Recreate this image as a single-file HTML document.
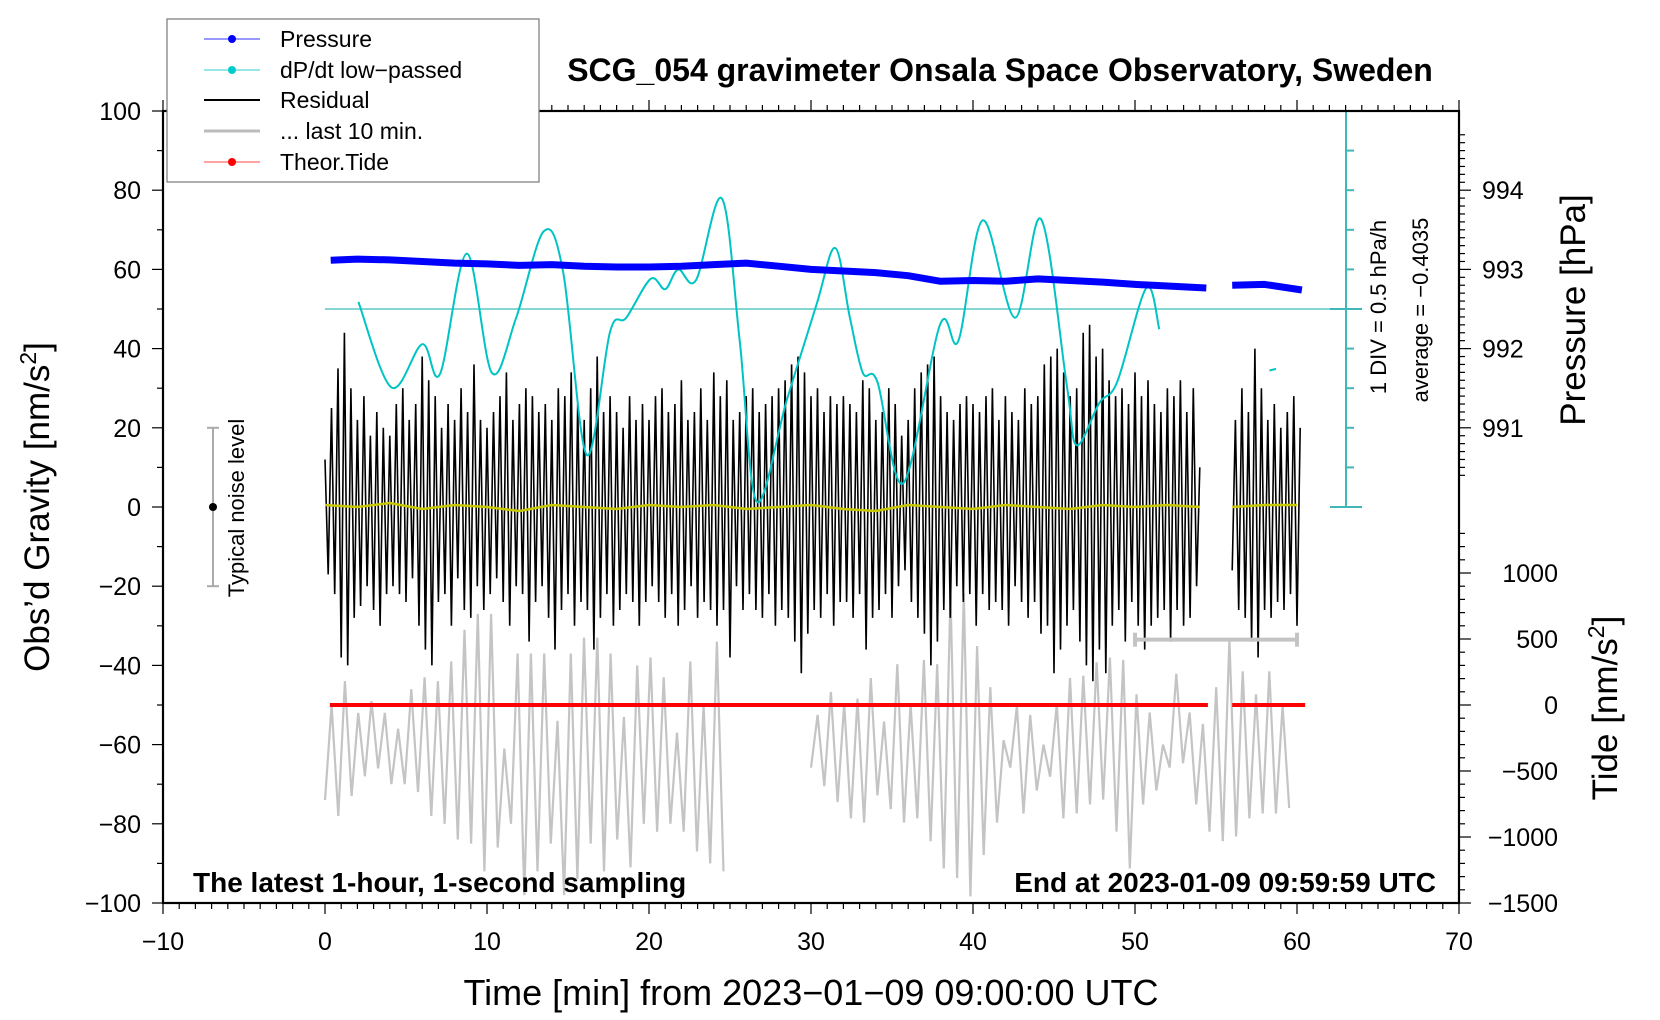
<!DOCTYPE html>
<html><head><meta charset="utf-8">
<style>
html,body{margin:0;padding:0;background:#fff;}
svg{display:block;font-family:"Liberation Sans",Arial,sans-serif;}
</style></head>
<body>
<svg id="chart" width="1660" height="1020" viewBox="0 0 1660 1020" xmlns="http://www.w3.org/2000/svg">
  <rect x="0" y="0" width="1660" height="1020" fill="#fff"/>
  <g id="marks"></g>
  <g id="axes"></g>
  <text x="1000" y="81" text-anchor="middle" font-size="32" font-weight="bold">SCG_054 gravimeter Onsala Space Observatory, Sweden</text>
  <text x="193" y="892" font-size="28" font-weight="bold">The latest 1-hour, 1-second sampling</text>
  <text x="1436" y="892" text-anchor="end" font-size="28" font-weight="bold">End at 2023-01-09 09:59:59 UTC</text>
  <text x="811" y="1005" text-anchor="middle" font-size="36">Time [min] from 2023−01−09 09:00:00 UTC</text>
  <text transform="translate(49,507) rotate(-90)" text-anchor="middle" font-size="35">Obs’d Gravity [nm/s<tspan dy="-13" font-size="23">2</tspan><tspan dy="13">]</tspan></text>
  <text transform="translate(1585,310) rotate(-90)" text-anchor="middle" font-size="35">Pressure [hPa]</text>
  <text transform="translate(1617,708) rotate(-90)" text-anchor="middle" font-size="35">Tide [nm/s<tspan dy="-13" font-size="23">2</tspan><tspan dy="13">]</tspan></text>
  <text transform="translate(1386,307) rotate(-90)" text-anchor="middle" font-size="22">1 DIV = 0.5 hPa/h</text>
  <text transform="translate(1428,310) rotate(-90)" text-anchor="middle" font-size="22">average = −0.4035</text>
  <text transform="translate(244,508) rotate(-90)" text-anchor="middle" font-size="22">Typical noise level</text>
  <g>
    <rect x="167" y="19" width="372" height="163" fill="#fff" stroke="#777" stroke-width="1.2"/>
    <g>
      <line x1="204" y1="39" x2="260" y2="39" stroke="#33f" stroke-width="1"/><circle cx="232" cy="39" r="4" fill="#00f"/>
      <text x="280" y="47" font-size="23">Pressure</text></g>
    <g>
      <line x1="204" y1="70" x2="260" y2="70" stroke="#3cc" stroke-width="1"/><circle cx="232" cy="70" r="4" fill="#0cc"/>
      <text x="280" y="78" font-size="23">dP/dt low−passed</text></g>
    <g>
      <line x1="204" y1="100" x2="260" y2="100" stroke="#000" stroke-width="2"/>
      <text x="280" y="108" font-size="23">Residual</text></g>
    <g>
      <line x1="204" y1="131" x2="260" y2="131" stroke="#bbb" stroke-width="3"/>
      <text x="280" y="139" font-size="23">... last 10 min.</text></g>
    <g>
      <line x1="204" y1="162" x2="260" y2="162" stroke="#f44" stroke-width="1"/><circle cx="232" cy="162" r="4" fill="#f00"/>
      <text x="280" y="170" font-size="23">Theor.Tide</text></g>
  </g>
</svg>
<script>
// ---- data ----
const residStep = 0.2;
const residSeg1Start = 0;
const residSeg1 = [12,-17,25,-22,35,-38,44,-40,30,-28,22,-25,28,-20,18,-26,24,-30,20,-22,
18,-20,26,-22,30,-24,22,-18,26,-30,38,-36,32,-40,28,-24,20,-22,26,-30,
22,-18,30,-26,24,-28,36,-20,22,-26,20,-22,24,-18,28,-24,34,-30,22,-20,
26,-22,30,-34,28,-24,24,-20,26,-28,22,-36,30,-26,28,-22,34,-30,26,-24,
22,-26,30,-36,38,-28,24,-22,28,-30,24,-26,20,-22,28,-24,22,-30,26,-24,
22,-20,28,-24,30,-28,24,-22,26,-30,32,-26,22,-20,24,-28,30,-24,22,-26,
34,-30,28,-26,32,-38,22,-20,24,-26,28,-22,30,-26,24,-28,26,-22,28,-30,
30,-26,32,-28,36,-34,38,-42,34,-32,28,-26,30,-28,24,-22,28,-30,26,-24,
28,-24,26,-28,24,-22,32,-36,30,-28,22,-26,24,-22,30,-28,26,-20,18,-16,
22,-24,30,-28,34,-32,36,-40,38,-34,28,-26,24,-28,22,-20,26,-24,28,-22,
26,-30,24,-22,28,-26,30,-24,22,-26,28,-30,24,-20,22,-24,30,-28,26,-24,
28,-32,36,-30,38,-42,40,-36,34,-30,28,-26,30,-34,44,-40,46,-44,38,-36,
40,-42,32,-30,28,-26,30,-34,26,-24,34,-30,28,-36,32,-30,26,-28,24,-26,
30,-34,28,-26,32,-30,24,-28,30,-20,10];
const residSeg2Start = 56;
const residSeg2 = [-16,22,-26,30,-28,24,-34,40,-38,30,-26,22,-28,26,-24,20,-26,24,-22,28,-30,20];

const smoothTimes = [0,2,4,6,8,10,12,14,16,18,20,22,24,26,28,30,32,34,36,38,40,42,44,46,48,50,52,54];
const smoothVals  = [0.5,0,1,-0.5,0.5,0,-1,0.5,0,-0.5,0.5,0,0.5,-0.5,0,0.5,-0.5,-1,0.5,0,-0.5,0.5,0,-0.5,0.5,0,0.5,0];
const smoothTimes2 = [56,58,60];
const smoothVals2 = [0,0.5,0.5];

const grayStep = 0.41;
const graySeg1Start = 0;
const graySeg1 = [-74,-50,-78,-44,-73,-52,-68,-49,-66,-52,-70,-56,-70,-46,-72,-43,-78,-44,-80,-39,-84,-31,-85,-27,-92,-27,-86,-61,-80,-37,-98,-37,-92,-37,-85,-54,-98,-37,-94,-33,-85,-33,-92,-37,-84,-53,-91,-40,-80,-38,-82,-43,-80,-57,-82,-39,-87,-50,-90,-34,-92];
const graySeg2Start = 30;
const graySeg2 = [-65.8,-52.5,-70.5,-46.7,-74.5,-49.6,-78.6,-48.4,-79.7,-43.2,-72.8,-54.2,-76.3,-39.7,-79.7,-49.6,-78.6,-38.6,-84.4,-39.7,-91.3,-22.3,-93.7,-21.8,-98.3,-35.1,-87.9,-45.5,-79.7,-58.9,-65.8,-50.2,-77.4,-52.5,-71.6,-60,-68.1,-49.6,-78.6,-43.2,-77.4,-42.6,-75.1,-39.2,-73.9,-38,-82,-38.6,-91.3,-47.3,-75.1,-51.9,-71.6,-60,-65.8,-42.1,-64.7,-51.9,-75.1,-54.8,-82,-45.5,-84.4,-33.4,-83.2,-41.5,-78.6,-47.3,-77.4,-41.5,-77.4,-50.2,-76];

const pressTimes1 = [0.35,2,4,6,8,10,12,14,16,18,20,22,24,26,28,30,32,34,36,38,40,42,44,46,48,50,52,54.4];
const pressVals1  = [993.115,993.13,993.12,993.10,993.08,993.07,993.05,993.06,993.04,993.03,993.03,993.04,993.06,993.08,993.04,993.0,992.98,992.96,992.92,992.85,992.86,992.85,992.88,992.86,992.84,992.81,992.79,992.765];
const pressTimes2 = [56,58,60.3];
const pressVals2  = [992.80,992.81,992.74];

const dpdtAverage = -0.4035;
const dpdtTimes = [2.06,4.1,6.0,7.1,8.75,10.3,11.8,13.5,14.7,16.15,17.6,18.6,20.1,21.0,21.8,22.9,24.5,25.6,26.65,28.5,30.35,31.5,32.4,33.2,34.1,35.7,37.96,39.1,40.6,42.6,44.2,45.8,46.4,47.8,48.9,50.7,51.5];
const dpdtVals  = [-0.3135,-1.3935,-0.8485,-1.2235,0.2965,-1.2085,-0.5135,0.5765,0.0665,-2.2435,-0.6885,-0.5135,-0.0235,-0.1535,0.0965,-0.0385,0.9915,-0.8035,-2.8335,-1.5585,-0.3385,0.3665,-0.5135,-1.2085,-1.3235,-2.6035,-0.6035,-0.8035,0.7165,-0.5135,0.7315,-1.3835,-2.1235,-1.5885,-1.3235,-0.1385,-0.6585];
const dpdtTimes2 = [58.3,58.7];
const dpdtVals2 = [-1.18,-1.16];

const tideTimes1 = [0.3,54.5];
const tideVals1 = [0,0];
const tideTimes2 = [56,60.5];
const tideVals2 = [0,0];

const xTicks = [-10,0,10,20,30,40,50,60,70];
const yTicks = [100,80,60,40,20,0,-20,-40,-60,-80,-100];
const pressTicks = [994,993,992,991];
const tideTicks = [1000,500,0,-500,-1000,-1500];

// ---- scales ----
const X0=163, X1=1459, YT=111, YB=903;
function sx(t){ return X0 + (t+10)/80*(X1-X0); }
function sy(g){ return YT + (100-g)/200*(YB-YT); }
function pressToG(p){ return 80-(994-p)*20; }
function tideToG(v){ return -50 + v/30; }
function dpdtToG(v){ return 50 + (v-dpdtAverage)/0.5*10; }

const NS="http://www.w3.org/2000/svg";
const marks=document.getElementById('marks');
const axes=document.getElementById('axes');
function mk(tag, attrs, parent){
  const e=document.createElementNS(NS,tag);
  for(const k in attrs) e.setAttribute(k,attrs[k]);
  (parent||marks).appendChild(e); return e;
}
function ptsStr(ts, gs){ return ts.map((t,i)=>sx(t).toFixed(1)+','+sy(gs[i]).toFixed(1)).join(' '); }
function stepTimes(start, step, n){ const a=[]; for(let i=0;i<n;i++) a.push(start+i*step); return a; }
function smoothPath(ts, gs){
  const p=ts.map((t,i)=>[sx(t),sy(gs[i])]);
  let d='M'+p[0][0]+','+p[0][1];
  for(let i=0;i<p.length-1;i++){
    const p0=p[i-1]||p[i], p1=p[i], p2=p[i+1], p3=p[i+2]||p[i+1];
    const c1=[p1[0]+(p2[0]-p0[0])/6, p1[1]+(p2[1]-p0[1])/6];
    const c2=[p2[0]-(p3[0]-p1[0])/6, p2[1]-(p3[1]-p1[1])/6];
    d+=' C'+c1[0].toFixed(1)+','+c1[1].toFixed(1)+' '+c2[0].toFixed(1)+','+c2[1].toFixed(1)+' '+p2[0].toFixed(1)+','+p2[1].toFixed(1);
  }
  return d;
}

let e;
e=mk('polyline',{points:ptsStr(stepTimes(graySeg1Start,grayStep,graySeg1.length),graySeg1),fill:'none',stroke:'#c4c4c4','stroke-width':2.2});


e=mk('polyline',{points:ptsStr(stepTimes(graySeg2Start,grayStep,graySeg2.length),graySeg2),fill:'none',stroke:'#c4c4c4','stroke-width':2.2});



e=mk('polyline',{points:ptsStr(stepTimes(residSeg1Start,residStep,residSeg1.length),residSeg1),fill:'none',stroke:'#000','stroke-width':1.6});


e=mk('polyline',{points:ptsStr(stepTimes(residSeg2Start,residStep,residSeg2.length),residSeg2),fill:'none',stroke:'#000','stroke-width':1.6});



e=mk('polyline',{points:ptsStr(smoothTimes,smoothVals),fill:'none',stroke:'#c8c800','stroke-width':2.5});


e=mk('polyline',{points:ptsStr(smoothTimes2,smoothVals2),fill:'none',stroke:'#c8c800','stroke-width':2.5});



e=mk('polyline',{points:ptsStr(tideTimes1,tideVals1.map(tideToG)),fill:'none',stroke:'#f00','stroke-width':4});


e=mk('polyline',{points:ptsStr(tideTimes2,tideVals2.map(tideToG)),fill:'none',stroke:'#f00','stroke-width':4});



e=mk('line',{x1:sx(0),y1:sy(50),x2:1362,y2:sy(50),stroke:'#5cc8c8','stroke-width':1.5});


e=mk('path',{d:smoothPath(dpdtTimes,dpdtVals.map(dpdtToG)),fill:'none',stroke:'#00c4c4','stroke-width':2});


e=mk('polyline',{points:ptsStr(dpdtTimes2,dpdtVals2.map(dpdtToG)),fill:'none',stroke:'#00c4c4','stroke-width':2});



e=mk('polyline',{points:ptsStr(pressTimes1,pressVals1.map(pressToG)),fill:'none',stroke:'#0000ff','stroke-width':7,'stroke-linejoin':'round'});


e=mk('polyline',{points:ptsStr(pressTimes2,pressVals2.map(pressToG)),fill:'none',stroke:'#0000ff','stroke-width':7,'stroke-linejoin':'round'});



const sbx=1346;
e=mk('line',{x1:sbx,y1:sy(100),x2:sbx,y2:sy(0),stroke:'#40b8b8','stroke-width':2});


for(let g=0; g<=100; g+=10){
  const major=(g%50===0);
  e=mk('line',{x1:major?sbx-16:sbx,y1:sy(g),x2:major?sbx+16:sbx+8,y2:sy(g),stroke:'#40b8b8','stroke-width':2});
  
  
}

e=mk('line',{x1:213,y1:sy(20),x2:213,y2:sy(-20),stroke:'#aaa','stroke-width':2});


for(const g of [20,-20]){
  e=mk('line',{x1:207,y1:sy(g),x2:219,y2:sy(g),stroke:'#aaa','stroke-width':2});
  
  
}
e=mk('circle',{cx:213,cy:sy(0),r:4,fill:'#000'});



e=mk('line',{x1:sx(50),y1:sy(-33.5),x2:sx(60),y2:sy(-33.5),stroke:'#c4c4c4','stroke-width':4});


for(const t of [50,60]){
  e=mk('line',{x1:sx(t),y1:sy(-33.5)-7,x2:sx(t),y2:sy(-33.5)+7,stroke:'#c4c4c4','stroke-width':4});
  
  
}

// ---- axes ----
e=mk('rect',{x:X0,y:YT,width:X1-X0,height:YB-YT,fill:'none',stroke:'#000','stroke-width':2.2},axes);


for(let t=-10;t<=70;t++){
  const major=(t%10===0);
  e=mk('line',{x1:sx(t),y1:YB,x2:sx(t),y2:YB+(major?11:6),stroke:'#000','stroke-width':1.2},axes);
  
  
  e=mk('line',{x1:sx(t),y1:YT,x2:sx(t),y2:YT-(major?11:6),stroke:'#000','stroke-width':1.2},axes);
  
  
}
xTicks.forEach(t=>{
  e=mk('text',{x:sx(t),y:950,'text-anchor':'middle','font-size':25},axes);
  e.textContent=String(t).replace('-','−');
  
  
});
for(let g=-100;g<=100;g+=10){
  const major=(g%20===0);
  e=mk('line',{x1:X0,y1:sy(g),x2:X0-(major?11:6),y2:sy(g),stroke:'#000','stroke-width':1.2},axes);
  
  
}
yTicks.forEach(g=>{
  e=mk('text',{x:141,y:sy(g)+9,'text-anchor':'end','font-size':25},axes);
  e.textContent=String(g).replace('-','−');
  
  
});
for(let p=990.4;p<=994.8;p+=0.1){
  const pr=Math.round(p*10)/10;
  const major=Math.abs(pr-Math.round(pr))<0.01;
  const y=sy(pressToG(pr));
  if(y<YT-1||y>sy(0)+30) continue;
  e=mk('line',{x1:X1,y1:y,x2:X1+(major?12:6),y2:y,stroke:'#000','stroke-width':1.2},axes);
  
  
}
pressTicks.forEach(p=>{
  e=mk('text',{x:1482,y:sy(pressToG(p))+9,'font-size':25},axes);
  e.textContent=String(p);
  
  
});
for(let v=-1500;v<=1300;v+=100){
  const major=(v%500===0);
  e=mk('line',{x1:X1,y1:sy(tideToG(v)),x2:X1+(major?12:6),y2:sy(tideToG(v)),stroke:'#000','stroke-width':1.2},axes);
  
  
}
tideTicks.forEach(v=>{
  e=mk('text',{x:1558,y:sy(tideToG(v))+9,'text-anchor':'end','font-size':25},axes);
  e.textContent=String(v).replace('-','−');
  
  
});
</script>
</body></html>
